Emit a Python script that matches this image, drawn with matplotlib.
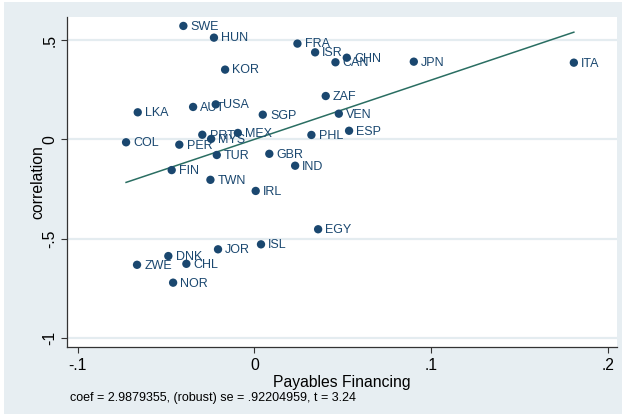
import numpy as np
import matplotlib
matplotlib.use("Agg")
import matplotlib.pyplot as plt
from matplotlib.patches import Rectangle

plt.rcParams['font.family'] = ['Liberation Sans', 'DejaVu Sans']

countries = ["SWE", "HUN", "FRA", "ISR", "CHN", "CAN", "JPN", "ITA", "KOR", "ZAF",
             "LKA", "AUT", "USA", "SGP", "VEN", "ESP", "PHL", "PRT", "MEX", "MYS",
             "COL", "PER", "TUR", "GBR", "IND", "FIN", "TWN", "IRL", "EGY", "ISL",
             "JOR", "DNK", "CHL", "ZWE", "NOR"]
payables = [-0.0402, -0.0229, 0.0243, 0.0343, 0.0522, 0.0458, 0.0901, 0.1806, -0.0166, 0.0403,
            -0.0660, -0.0347, -0.0219, 0.0047, 0.0477, 0.0535, 0.0322, -0.0295, -0.0094, -0.0245,
            -0.0726, -0.0425, -0.0213, 0.0084, 0.0230, -0.0468, -0.0249, 0.0007, 0.0360, 0.0037,
            -0.0206, -0.0487, -0.0385, -0.0664, -0.0460]
correlation = [0.571, 0.512, 0.482, 0.438, 0.411, 0.388, 0.391, 0.386, 0.351, 0.218,
               0.136, 0.163, 0.176, 0.124, 0.129, 0.043, 0.022, 0.023, 0.032, 0.002,
               -0.015, -0.027, -0.079, -0.073, -0.133, -0.155, -0.204, -0.260, -0.453, -0.529,
               -0.554, -0.588, -0.627, -0.632, -0.722]
coef = 2.9879355
x_ticks = [-0.1, 0, 0.1, 0.2]
x_ticklabels = ["-.1", "0", ".1", ".2"]
y_ticks = [-1, -0.5, 0, 0.5]
y_ticklabels = ["-1", "-.5", "0", ".5"]

W, H = 626, 416
fig = plt.figure(figsize=(W / 100, H / 100), dpi=100, facecolor="white")
bg = "#e7eef2"
fig.patches.append(Rectangle((4 / W, 2 / H), 618 / W, 412 / H, transform=fig.transFigure,
                             facecolor=bg, edgecolor="none", zorder=-10))

ax = fig.add_axes([67 / W, (H - 347) / H, 550 / W, 330 / H])
ax.set_zorder(5)
ax.set_facecolor("white")
ax.set_xlim(-0.106, 0.205)
ax.set_ylim(-1.046, 0.616)

navy = "#1a476f"
x = np.array(payables)
y = np.array(correlation)

for yt in y_ticks:
    ax.axhline(yt, color="#e4ecf0", lw=1.6, zorder=1)

intercept = y.mean() - coef * x.mean()
xl = np.array([x.min(), x.max()])
ax.plot(xl, intercept + coef * xl, color="#2a6e62", lw=1.1, zorder=2)

ax.scatter(x, y, s=36, color=navy, edgecolors="none", zorder=3)
for c, xi, yi in zip(countries, x, y):
    ax.annotate(c, (xi, yi), xytext=(5.2, -0.6), textcoords="offset points",
                ha="left", va="center", fontsize=9, color=navy, zorder=4)

for side in ["top", "right"]:
    ax.spines[side].set_visible(False)
for side in ["left", "bottom"]:
    ax.spines[side].set_color("#333333")
    ax.spines[side].set_linewidth(0.9)

ax.set_xticks(x_ticks)
ax.set_xticklabels(x_ticklabels, fontsize=11.3)
ax.set_yticks(y_ticks)
ax.set_yticklabels(y_ticklabels, fontsize=11.3, rotation=90, va="center")
ax.tick_params(axis="both", direction="out", length=4, width=0.8, color="#333333", pad=3)
ax.tick_params(axis="x", pad=4)

ax.set_xlabel("Payables Financing", fontsize=11.3, labelpad=1)
ax.set_ylabel("correlation", fontsize=11.3, labelpad=-2)

fig.text(70 / W, 1 - 398 / H, "coef = 2.9879355, (robust) se = .92204959, t = 3.24",
         fontsize=9, ha="left", va="center", color="black")

fig.savefig("out.png", dpi=100, facecolor=fig.get_facecolor())
